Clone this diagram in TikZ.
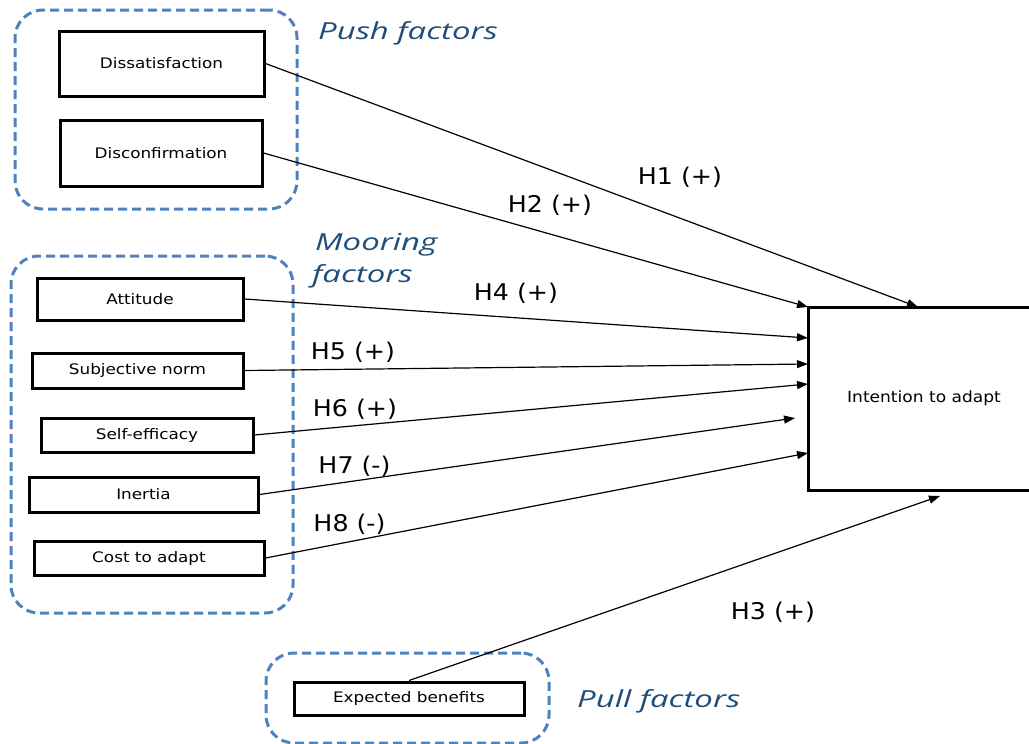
\documentclass[tikz,border=0pt]{standalone}
\usepackage{fontspec}
\usetikzlibrary{arrows.meta}
\newfontfamily\boxf{DejaVu Sans}[FakeStretch=1.16]
\newfontfamily\intf{DejaVu Sans}[FakeStretch=1.1]
\newfontfamily\labf{DejaVu Sans}[FakeStretch=1.1]
\newfontfamily\grpf{Open Sans}[FakeStretch=1.4]
\definecolor{grpline}{RGB}{79,129,189}
\definecolor{grptext}{RGB}{31,78,121}
\tikzset{
  fbox/.style={draw, line width=3pt, inner sep=0pt, font=\boxf\fontsize{14.5}{17}\selectfont},
  grp/.style={draw=grpline, line width=3pt, dash pattern=on 9pt off 5pt, rounded corners=28pt, inner sep=0pt},
  grptitle/.style={text=grptext, inner sep=0pt, anchor=base west, font=\grpf\itshape\fontsize{23.5}{27}\selectfont},
  hyp/.style={inner sep=0pt, font=\labf\fontsize{23}{27}\selectfont},
  conn/.style={line width=1.2pt, -{Triangle[length=11pt,width=8pt]}}
}
\begin{document}
\begin{tikzpicture}[x=1pt,y=-1pt]
\useasboundingbox (0,0) rectangle (1029,744);
% groups
\node[grp, minimum width=282pt, minimum height=199pt] (gpush) at (156,109.5) {};
\node[grp, minimum width=282pt, minimum height=357pt] (gmoor) at (152,434.5) {};
\node[grp, minimum width=283pt, minimum height=90pt] (gpull) at (407.5,698) {};
% group titles
\node[grptitle] (tpush) at (318,39) {Push factors};
\node[grptitle] (tmoor1) at (315,250) {Mooring};
\node[grptitle] (tmoor2) at (312,282) {factors};
\node[grptitle] (tpull) at (577,707) {Pull factors};
% boxes
\node[fbox, minimum width=205pt, minimum height=65pt] (dis) at (161.5,63.5) {Dissatisfaction};
\node[fbox, minimum width=202pt, minimum height=66pt] (dcf) at (161,153) {Disconfirmation};
\node[fbox, minimum width=206pt, minimum height=42pt] (att) at (140,299) {Attitude};
\node[fbox, minimum width=211pt, minimum height=35pt] (sub) at (137.5,370.5) {Subjective norm};
\node[fbox, minimum width=212pt, minimum height=34pt] (sef) at (147,435) {Self-efficacy};
\node[fbox, minimum width=229pt, minimum height=35pt] (ine) at (143.5,494.5) {Inertia};
\node[fbox, minimum width=230pt, minimum height=34pt] (cos) at (149,558) {Cost to adapt};
\node[fbox, minimum width=230pt, minimum height=33pt] (exb) at (409,698.5) {Expected benefits};
\node[fbox, minimum width=232pt, minimum height=183pt, font=\intf\fontsize{15.5}{18}\selectfont] (int) at (924,398.5) {Intention to adapt};
% arrow targets
\coordinate (e1) at (918,307);
\coordinate (e2) at (808,307);
\coordinate (e4) at (808,338);
\coordinate (e5) at (808,364);
\coordinate (e6) at (808,384);
\coordinate (e7) at (795,418);
\coordinate (e8) at (808,453);
\coordinate (e3) at (940,496);
% connectors
\draw[conn] (dis.east) -- (e1);
\draw[conn] (dcf.east) -- (e2);
\draw[conn] (att.east) -- (e4);
\draw[conn] (sub.east) -- (e5);
\draw[conn] (sef.east) -- (e6);
\draw[conn] (ine.east) -- (e7);
\draw[conn] (cos.east) -- (e8);
\draw[conn] (exb.north) -- (e3);
% hypothesis labels
\node[hyp] (h1) at (680,177) {H1 (+)};
\node[hyp] (h2) at (550,205) {H2 (+)};
\node[hyp] (h4) at (516,293) {H4 (+)};
\node[hyp] (h5) at (353,352) {H5 (+)};
\node[hyp] (h6) at (355,409) {H6 (+)};
\node[hyp] (h7) at (354.5,466) {H7 (-)};
\node[hyp] (h8) at (349.5,524) {H8 (-)};
\node[hyp] (h3) at (773,612) {H3 (+)};
\end{tikzpicture}
\end{document}
